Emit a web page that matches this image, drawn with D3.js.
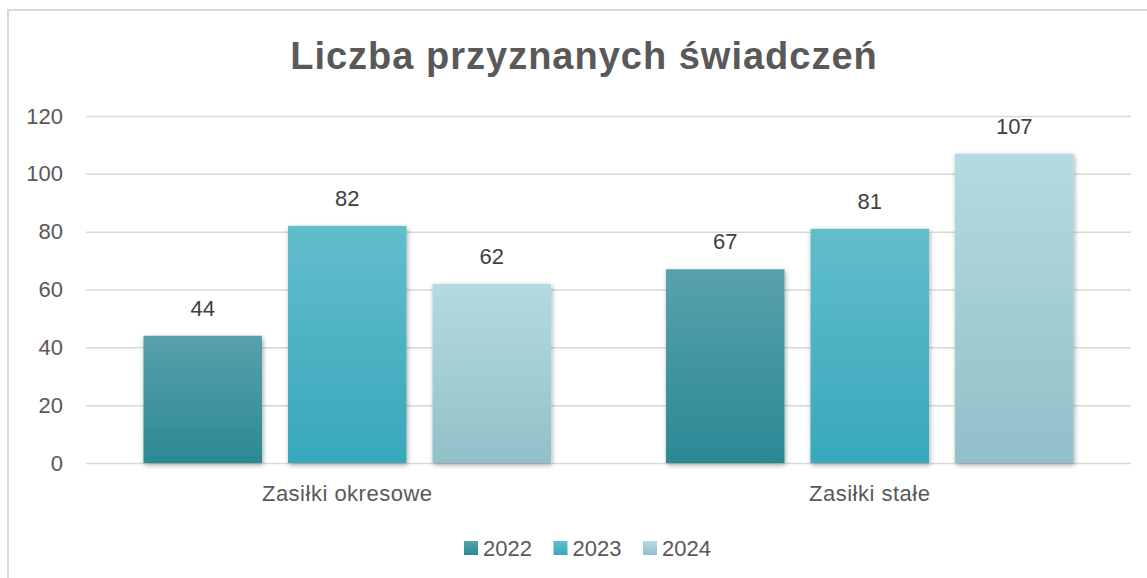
<!DOCTYPE html>
<html>
<head>
<meta charset="utf-8">
<script src="https://cdn.jsdelivr.net/npm/d3@7"></script>
<style>
  body { margin: 0; background: #fff; }
  text { font-family: "Liberation Sans", Arial, sans-serif; }
</style>
</head>
<body>
<svg id="chart" width="1147" height="578"></svg>
<script>
// --- data ---
const categories = ["Zasiłki okresowe", "Zasiłki stałe"];
const years = ["2022", "2023", "2024"];
const values2022 = [44, 67];
const values2023 = [82, 81];
const values2024 = [62, 107];
const yTicks = [0, 20, 40, 60, 80, 100, 120];

const seriesValues = [values2022, values2023, values2024];
const colors = [
  {top: "#58a1ab", bottom: "#2a8995"},
  {top: "#63bdcc", bottom: "#37a8bb"},
  {top: "#b4dae2", bottom: "#92c0c8"}
];

const svg = d3.select("#chart");
const margin = {left: 86, right: 16, top: 116, bottom: 115};
const width = 1147, height = 578;

// frame
svg.append("path")
  .attr("d", `M8,578 V10 H1147`)
  .attr("fill", "none")
  .attr("stroke", "#d9d9d9")
  .attr("stroke-width", 2);

// defs: gradients + shadow
const defs = svg.append("defs");
colors.forEach((c, i) => {
  const g = defs.append("linearGradient")
    .attr("id", "grad" + i)
    .attr("x1", 0).attr("y1", 0).attr("x2", 0).attr("y2", 1);
  g.append("stop").attr("offset", "0%").attr("stop-color", c.top);
  g.append("stop").attr("offset", "100%").attr("stop-color", c.bottom);
});
const f = defs.append("filter").attr("id", "shadow")
  .attr("x", "-20%").attr("y", "-10%").attr("width", "140%").attr("height", "120%");
f.append("feDropShadow").attr("dx", 1).attr("dy", 2).attr("stdDeviation", 2.5)
  .attr("flood-color", "#000").attr("flood-opacity", 0.35);

// scales
const y = d3.scaleLinear().domain([0, 120]).range([height - margin.bottom, margin.top]);
const x0 = d3.scaleBand().domain(categories)
  .range([margin.left, width - margin.right])
  .paddingInner(0.22).paddingOuter(0.11);
const x1 = d3.scaleBand().domain(years)
  .range([0, x0.bandwidth()])
  .paddingInner(0.18);

// title
svg.append("text")
  .attr("x", 584).attr("y", 69)
  .attr("text-anchor", "middle")
  .attr("font-size", 38).attr("font-weight", "bold")
  .attr("letter-spacing", 1)
  .attr("fill", "#595959")
  .text("Liczba przyznanych świadczeń");

// gridlines + y axis
const yAxis = svg.append("g")
  .attr("transform", `translate(${margin.left},0)`)
  .call(d3.axisLeft(y).tickValues(yTicks).tickSize(-(width - margin.right - margin.left)).tickPadding(23));
yAxis.select(".domain").remove();
yAxis.selectAll(".tick line").attr("stroke", "#d9d9d9").attr("stroke-width", 1.5);
yAxis.selectAll(".tick text")
  .attr("font-size", 22).attr("fill", "#595959")
  .attr("font-family", "Liberation Sans, Arial, sans-serif");

// bars
const groups = svg.append("g").selectAll("g")
  .data(categories)
  .join("g")
  .attr("transform", d => `translate(${x0(d)},0)`);

groups.selectAll("rect")
  .data((d, ci) => years.map((yr, si) => ({year: yr, si, value: seriesValues[si][ci]})))
  .join("rect")
  .attr("x", d => x1(d.year))
  .attr("y", d => y(d.value))
  .attr("width", x1.bandwidth())
  .attr("height", d => y(0) - y(d.value))
  .attr("fill", d => `url(#grad${d.si})`)
  .attr("filter", "url(#shadow)");

groups.selectAll("text.val")
  .data((d, ci) => years.map((yr, si) => ({year: yr, value: seriesValues[si][ci]})))
  .join("text")
  .attr("class", "val")
  .attr("x", d => x1(d.year) + x1.bandwidth() / 2)
  .attr("y", d => y(d.value) - 20)
  .attr("text-anchor", "middle")
  .attr("font-size", 22).attr("fill", "#404040")
  .text(d => d.value);

// category labels
svg.append("g").selectAll("text")
  .data(categories)
  .join("text")
  .attr("x", d => x0(d) + x0.bandwidth() / 2)
  .attr("y", 501)
  .attr("text-anchor", "middle")
  .attr("font-size", 22).attr("fill", "#595959")
  .attr("letter-spacing", 0.5)
  .text(d => d);

// legend
const legend = svg.append("g").selectAll("g")
  .data(years)
  .join("g")
  .attr("transform", (d, i) => `translate(${464 + i * 89.5},541)`);
legend.append("rect")
  .attr("width", 14).attr("height", 14)
  .attr("fill", (d, i) => `url(#grad${i})`);
legend.append("text")
  .attr("x", 19).attr("y", 15)
  .attr("font-size", 22).attr("fill", "#595959")
  .text(d => d);
</script>
</body>
</html>
